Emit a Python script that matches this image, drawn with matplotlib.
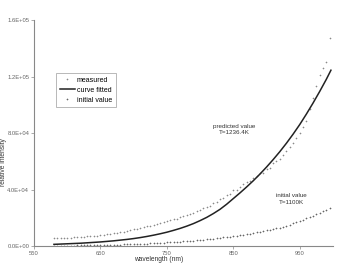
import numpy as np
import matplotlib
matplotlib.use("Agg")
import matplotlib.pyplot as plt
from matplotlib.ticker import FuncFormatter

plt.rcParams['font.family'] = ['Liberation Sans', 'DejaVu Sans']

# measured spectrum (5 nm steps)
wl_meas = list(range(580, 1000, 5))
measured = [5600, 5500, 5800, 5700, 6000, 5900, 6300, 6200, 6500, 6600,
            6800, 7000, 7300, 7200, 7700, 8000, 8200, 8700, 8900, 9400,
            9700, 10300, 10600, 11200, 11800, 12100, 12800, 13200, 13900, 14300,
            15000, 15600, 16200, 16900, 17600, 18100, 18900, 19400, 20500, 21000,
            21800, 23000, 23500, 24800, 25400, 26600, 27800, 28500, 30200, 31000,
            33000, 34100, 36200, 37000, 39500, 39800, 41600, 43800, 45000, 46200,
            48500, 49300, 51500, 52000, 54800, 55500, 58900, 60200, 61500, 64800,
            67300, 70100, 72800, 76500, 79900, 84600, 88500, 96800, 105000, 113000,
            121000, 126000, 130000, 147000]

# fitted curve (T = 1236.4 K)
wl_fit = [580, 590, 600, 610, 620, 630, 640, 650, 660, 670, 680, 690, 700,
          710, 720, 730, 740, 750, 760, 770, 780, 790, 800, 810, 820, 830,
          840, 850, 860, 870, 880, 890, 900, 910, 920, 930, 940, 950, 960,
          970, 980, 990, 997]
fitted = [1200, 1400, 1600, 1800, 2000, 2300, 2600, 2900, 3300, 3700, 4200,
          4700, 5300, 6000, 6800, 7700, 8700, 9800, 11100, 12500, 14100, 15900,
          18000, 20300, 23000, 26000, 29600, 33600, 37600, 41800, 46200, 50900,
          55900, 61200, 66800, 72800, 79200, 86000, 93400, 101200, 109400,
          118000, 124500]

# initial guess (T = 1100 K), 5 nm steps
wl_init = list(range(580, 1000, 5))
initial = [200, 220, 250, 270, 300, 330, 360, 390, 430, 470,
           510, 550, 600, 650, 700, 750, 800, 860, 920, 980,
           1050, 1120, 1190, 1270, 1350, 1440, 1540, 1640, 1750, 1870,
           1990, 2120, 2250, 2390, 2530, 2680, 2830, 2990, 3150, 3320,
           3500, 3690, 3890, 4100, 4300, 4520, 4750, 4990, 5240, 5500,
           5780, 6070, 6370, 6680, 7000, 7340, 7690, 8050, 8430, 8820,
           9230, 9650, 10090, 10550, 11020, 11510, 12020, 12550, 13100, 13670,
           14260, 14870, 16000, 16800, 17700, 18700, 19700, 20600, 21500, 22500,
           23500, 24600, 25800, 27000]

xticks = [550, 650, 750, 850, 950]
yticks = [0, 40000, 80000, 120000, 160000]

fig = plt.figure(figsize=(3.38, 2.64), dpi=100)
ax = fig.add_axes([0.1006, 0.068, 0.8844, 0.856])

ax.plot(wl_meas, measured, linestyle='none', marker='+', markersize=1.5,
        markeredgewidth=0.4, color='#8a8a8a', label='measured')
ax.plot(wl_fit, fitted, color='#222222', linewidth=1.1, label='curve fitted')
ax.plot(wl_init, initial, linestyle='none', marker='+', markersize=1.5,
        markeredgewidth=0.45, color='#666666', label='initial value')

ax.text(851, 82800, "predicted value\nT=1236.4K", fontsize=4.5, ha='center',
        va='center', color='#333333', linespacing=1.3)
ax.text(937, 33300, "initial value\nT=1100K", fontsize=4.5, ha='center',
        va='center', color='#333333', linespacing=1.3)

ax.set_xlim(550, 1000)
ax.set_ylim(0, 160000)
ax.set_xticks(xticks)
ax.set_yticks(yticks)
ax.yaxis.set_major_formatter(FuncFormatter(lambda v, p: f"{v:.1E}"))
ax.tick_params(labelsize=4.2, length=2, width=0.5, colors='#888888',
               labelcolor='#666666', pad=1.5)
for s in ['top', 'right']:
    ax.spines[s].set_visible(False)
for s in ['left', 'bottom']:
    ax.spines[s].set_color('#888888')
    ax.spines[s].set_linewidth(0.8)

ax.set_xlabel("wavelength (nm)", fontsize=4.8, color='#333333')
ax.xaxis.set_label_coords(0.418, -0.045)
ax.set_ylabel("relative intensity", fontsize=4.8, color='#333333')
ax.yaxis.set_label_coords(-0.09, 0.37)

leg = ax.legend(loc='upper left', bbox_to_anchor=(0.074, 0.765), fontsize=5,
                frameon=True, fancybox=False, edgecolor='#999999',
                handlelength=2.2, handletextpad=0.3, borderpad=0.5,
                labelspacing=0.45, markerscale=1.3, borderaxespad=0)
leg.get_frame().set_linewidth(0.6)

fig.savefig("out.png", dpi=100)
